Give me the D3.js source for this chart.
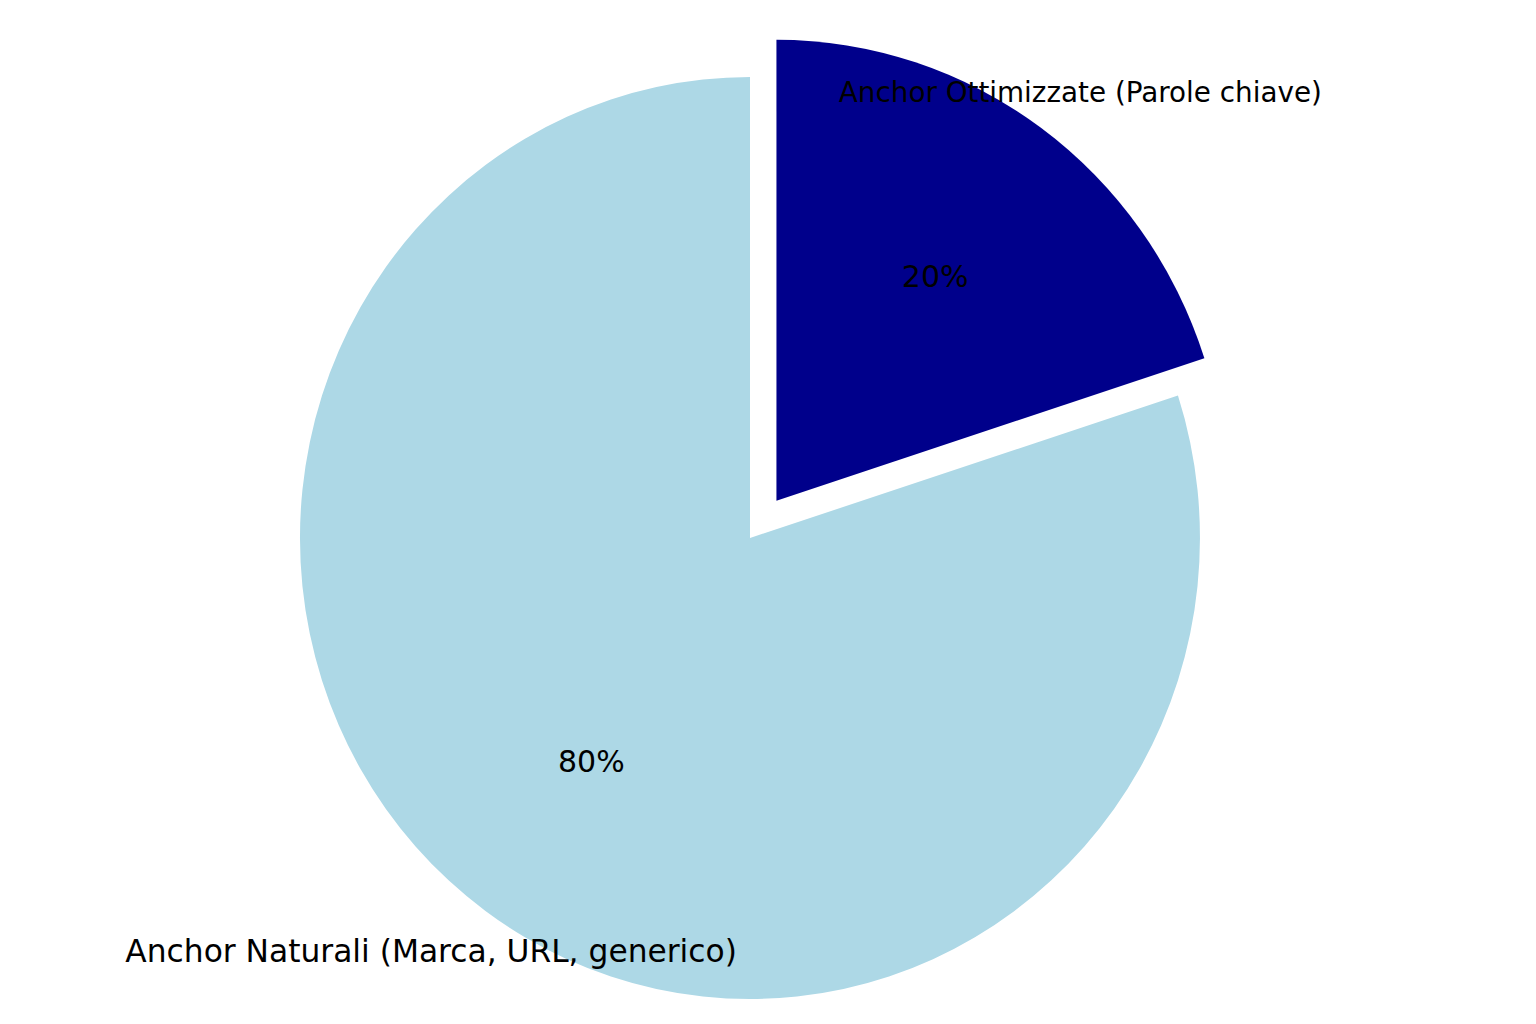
<!DOCTYPE html>
<html>
<head>
<meta charset="utf-8">
<script src="https://cdn.jsdelivr.net/npm/d3@7"></script>
<style>
  body { margin: 0; background: #fff; }
  text { font-family: "DejaVu Sans", sans-serif; fill: #000; }
</style>
</head>
<body>
<div id="pie_chart"></div>
<script>
// data
var categories = ["Anchor Naturali (Marca, URL, generico)", "Anchor Ottimizzate (Parole chiave)"];
var values = [80, 20];
var explode = [0, 0.1];

// styling / layout
var colors = ["#ADD8E6", "#00008B"];
var labelSizes = [31.3, 27.8];
var labelNudge = [[-20, -8], [5, 13]];

var width = 1536, height = 1024;
var cx = 750, cy = 538, rx = 450, ry = 461;

var svg = d3.select("#pie_chart")
  .append("svg")
    .attr("width", width)
    .attr("height", height);

var rows = categories.map(function(c, i) {
  return {name: c, value: values[i], color: colors[i], explode: explode[i],
          size: labelSizes[i], nudge: labelNudge[i]};
});

// counterclockwise from the top, like matplotlib startangle=90
var pie = d3.pie()
  .sort(null)
  .value(function(d) { return d.value; })
  .startAngle(0)
  .endAngle(-2 * Math.PI);

var arcs = pie(rows);

var arc = d3.arc().innerRadius(0).outerRadius(1);

// point on the (slightly elliptic) pie for angle a and distance r
function px(d, r) {
  var a = (d.startAngle + d.endAngle) / 2;
  return cx + rx * (d.data.explode + r) * Math.sin(a);
}
function py(d, r) {
  var a = (d.startAngle + d.endAngle) / 2;
  return cy - ry * (d.data.explode + r) * Math.cos(a);
}

var pieG = svg.append("g")
  .attr("transform", "translate(" + cx + "," + cy + ") scale(" + rx + "," + ry + ")");

pieG.selectAll("path")
  .data(arcs)
  .enter()
  .append("path")
    .attr("transform", function(d) {
      var a = (d.startAngle + d.endAngle) / 2;
      return "translate(" + (d.data.explode * Math.sin(a)) + "," + (-d.data.explode * Math.cos(a)) + ")";
    })
    .attr("d", arc)
    .attr("fill", function(d) { return d.data.color; });

// percentage labels
svg.selectAll(".pct")
  .data(arcs)
  .enter()
  .append("text")
    .attr("class", "pct")
    .attr("x", function(d) { return px(d, 0.6); })
    .attr("y", function(d) { return py(d, 0.6); })
    .attr("text-anchor", "middle")
    .attr("dominant-baseline", "central")
    .style("font-size", "30px")
    .text(function(d) { return d3.format(".0f")(d.data.value) + "%"; });

// category labels
svg.selectAll(".lbl")
  .data(arcs)
  .enter()
  .append("text")
    .attr("class", "lbl")
    .attr("x", function(d) { return px(d, 1.13) + d.data.nudge[0]; })
    .attr("y", function(d) { return py(d, 1.13) + d.data.nudge[1]; })
    .attr("text-anchor", "middle")
    .attr("dominant-baseline", "central")
    .style("font-size", function(d) { return d.data.size + "px"; })
    .text(function(d) { return d.data.name; });
</script>
</body>
</html>
